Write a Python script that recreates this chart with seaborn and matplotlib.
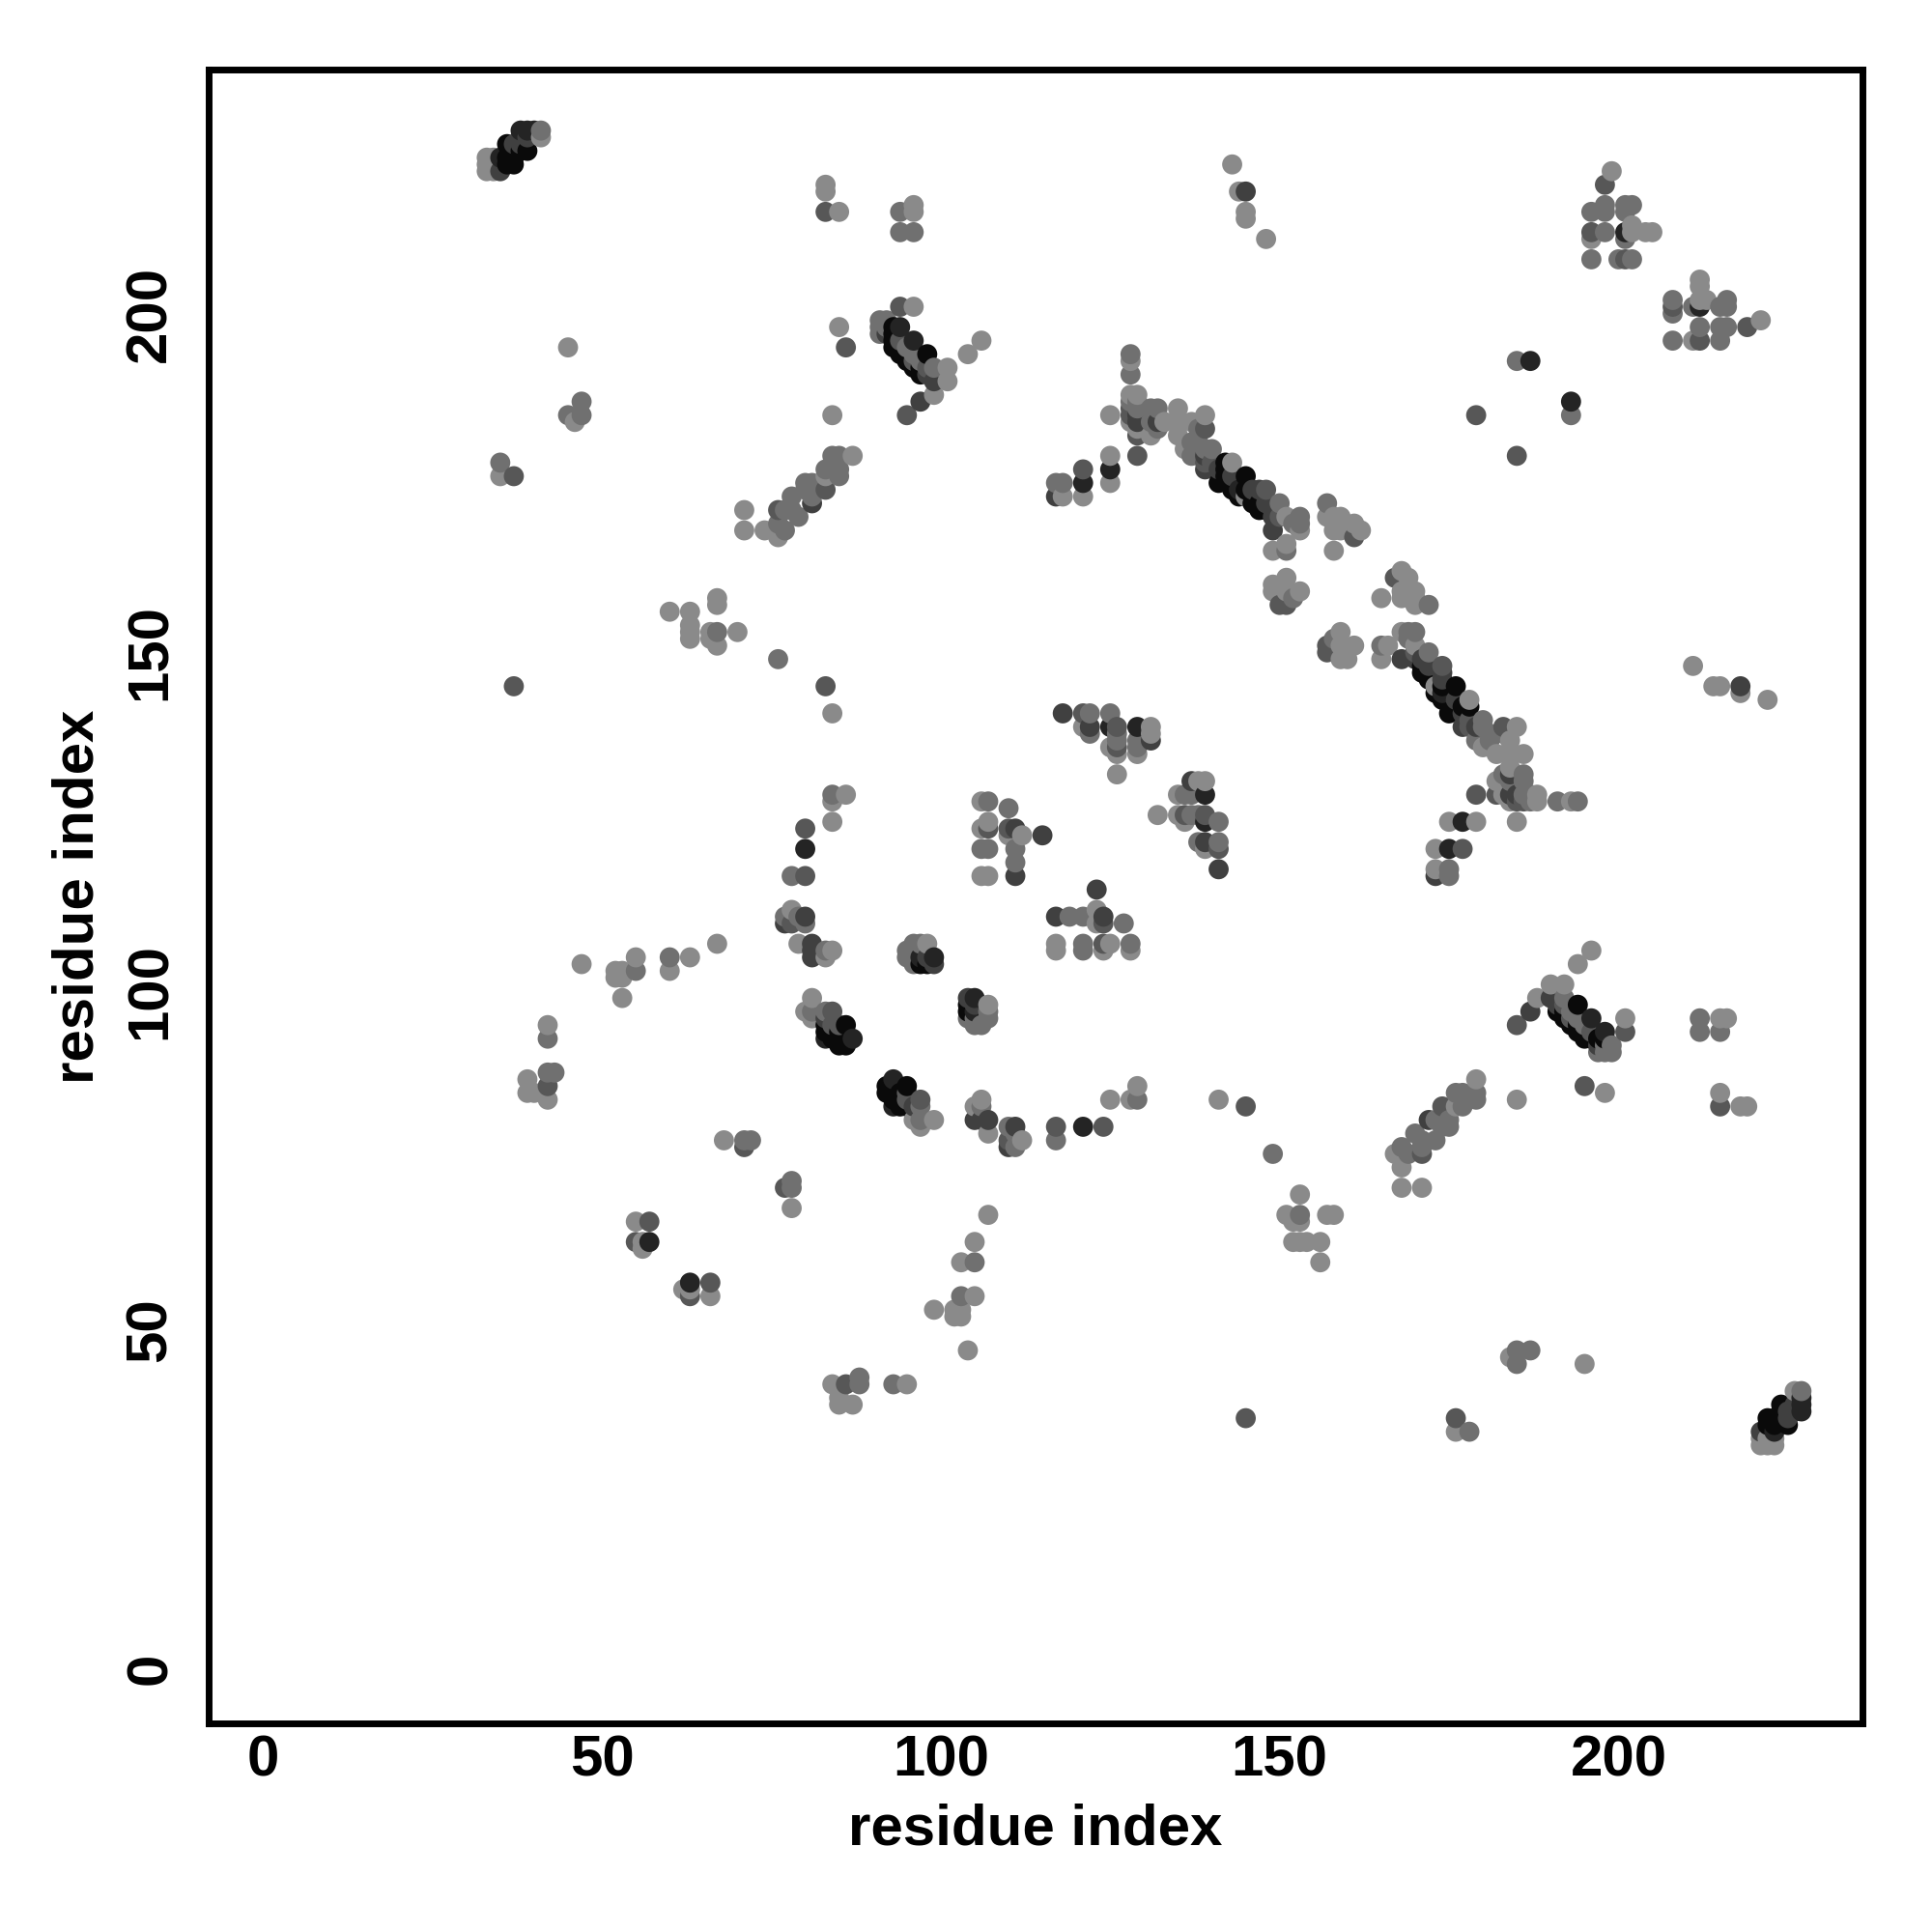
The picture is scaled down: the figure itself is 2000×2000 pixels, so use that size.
import pandas as pd
import matplotlib
matplotlib.use("Agg")
import matplotlib.pyplot as plt
import seaborn as sns

# contacts, one triangle only (i < j), grouped by grey level
black_pairs = [(36,222),(36,223),(36,225),(37,222),(37,223),(37,224),(38,224),(39,224),(93,195),(93,196),(93,197),(93,198),
               (94,194),(95,193),(95,194),(96,192),(97,191),(97,192),(98,194),(83,94),(83,95),(84,93),(84,94),(85,92),
               (85,93),(85,94),(86,92),(86,95),(97,104),(98,104),(142,176),(142,177),(142,178),(143,174),(144,173),
               (145,174),(145,176),(146,172),(147,171),(147,172),(148,171),(141,175)]
very_dark_pairs = [(35,223),(38,227),(39,227),(40,227),(94,198),(96,196),(121,175),(125,177),(125,139),(129,139),
                   (57,63),(80,121),(87,93),(99,105),(201,212),(187,193),(97,105),(144,174),(83,93)]
dark_pairs = [(35,221),(37,225),(38,225),(38,226),(39,226),(99,190),(97,187),(92,197),(81,172),(129,184),(129,185),
              (117,173),(145,218),(139,177),(149,168),(149,170),(147,174),(118,141),(122,139),(131,137),(81,107),
              (81,106),(81,105),(80,111),(77,110),(111,117),(115,123),(111,124),(132,184),(139,179),(98,191),(83,96),
              (141,177),(143,176),(146,174),(148,172),(149,171),(99,104),(98,105)]
dark_mid_pairs = [(83,215),(94,201),(86,195),(95,185),(37,176),(83,145),(37,145),(83,174),(76,171),(129,182),
                  (129,179),(121,177),(179,185),(128,185),(148,174),(161,167),(150,157),(151,157),(80,124),(80,117),
                  (78,110),(107,124),(110,124),(121,141),(126,139),(126,136),(42,86),(71,77),(57,66),(198,219),
                  (196,212),(201,208),(139,183),(84,97),(85,95),(55,63),(94,196),(96,193),(98,192),(84,95),(139,178),
                  (140,178),(150,170),(128,186)]
mid_pairs = [(35,178),(47,187),(45,185),(47,185),(94,215),(94,212),(96,212),(91,197),(91,198),(91,199),(92,199),
             (92,198),(95,195),(96,194),(97,193),(99,192),(84,179),(85,179),(83,177),(85,177),(85,176),(80,175),
             (81,175),(81,173),(78,173),(78,171),(79,170),(80,174),(77,171),(76,169),(77,168),(67,153),(76,149),
             (128,194),(128,191),(128,187),(129,187),(117,175),(118,175),(131,186),(132,186),(131,184),(132,183),
             (137,181),(137,179),(138,183),(138,181),(139,180),(140,180),(150,172),(153,170),(153,169),(152,169),
             (151,165),(157,172),(152,158),(41,227),(122,141),(125,141),(122,138),(126,138),(126,137),(129,137),
             (129,136),(84,129),(107,128),(110,127),(106,121),(107,121),(111,121),(111,119),(78,117),(77,111),
             (79,111),(80,110),(83,97),(81,97),(83,106),(96,107),(97,107),(95,106),(96,105),(96,104),(55,103),
             (60,105),(42,93),(42,88),(43,88),(71,78),(72,78),(196,215),(198,216),(198,215),(201,216),(202,216),
             (201,215),(198,212),(201,211),(202,208),(196,208),(200,208),(185,193),(95,105),(129,186)]
light_pairs = [(33,221),(33,222),(33,223),(34,221),(34,222),(34,223),(41,226),(45,195),(46,184),(35,176),(83,219),
               (83,218),(85,215),(96,216),(96,215),(96,201),(85,198),(101,192),(101,190),(99,188),(84,185),(106,196),
               (104,194),(87,179),(83,176),(76,167),(71,171),(71,168),(74,168),(60,156),(63,156),(63,154),(63,152),
               (63,153),(67,158),(67,157),(67,151),(66,152),(66,153),(70,153),(84,141),(143,222),(144,218),(145,215),
               (145,214),(148,211),(128,193),(128,188),(129,188),(129,183),(125,185),(125,179),(125,175),(121,173),
               (118,173),(131,182),(133,184),(135,186),(135,184),(135,182),(137,184),(136,180),(139,185),(143,178),
               (145,173),(151,170),(153,168),(149,165),(151,166),(157,170),(158,170),(159,170),(158,168),(159,168),
               (161,169),(162,168),(158,165),(151,161),(149,160),(149,159),(151,159),(153,159),(84,128),(86,129),
               (84,125),(78,112),(79,107),(84,106),(83,105),(81,99),(80,97),(81,96),(98,107),(106,128),(106,124),
               (107,125),(106,117),(107,117),(110,123),(112,123),(121,139),(125,136),(126,135),(131,139),(131,138),
               (129,135),(126,132),(47,104),(55,105),(52,103),(53,103),(52,102),(53,102),(53,99),(60,103),(63,105),
               (67,107),(42,95),(39,87),(39,85),(40,85),(42,84),(68,78),(55,66),(56,63),(56,62),(199,221),(196,211),
               (202,213),(202,212),(204,212),(205,212),(128,184)]

grey_levels = {0.04: black_pairs, 0.14: very_dark_pairs, 0.25: dark_pairs,
               0.34: dark_mid_pairs, 0.44: mid_pairs, 0.54: light_pairs}

tick_values = [0, 50, 100, 150, 200]

# the map is symmetric, every contact shows up as (i, j) and (j, i)
rows = []
for grey, pairs in grey_levels.items():
    for i, j in pairs:
        rows.append((i, j, grey))
        rows.append((j, i, grey))
df = pd.DataFrame(rows, columns=["i", "j", "grey"]).sort_values(["i", "j"])

sns.set_style("white")
plt.rcParams["font.family"] = ["Liberation Sans", "DejaVu Sans"]
plt.rcParams["font.weight"] = "bold"

fig = plt.figure(figsize=(10, 10), dpi=200)
ax = fig.add_axes([216 / 2000, 216 / 2000, 1712 / 2000, 1712 / 2000])

palette = {g: (g, g, g) for g in grey_levels}
sns.scatterplot(data=df, x="i", y="j", hue="grey", palette=palette, s=56, linewidth=0,
                legend=False, ax=ax)

ax.set_xlim(-8.03, 236.0)
ax.set_ylim(-8.03, 236.0)
ax.set_xticks(tick_values)
ax.set_yticks(tick_values)
ax.tick_params(axis="x", length=3.2, width=0.9, color="black", labelsize=21.6, pad=0.8, labelcolor="black")
ax.tick_params(axis="y", length=3.2, width=0.9, color="black", labelsize=21.6, pad=8.4, labelcolor="black")
plt.setp(ax.get_yticklabels(), rotation=90, va="center")
for spine in ax.spines.values():
    spine.set_linewidth(2.5)
    spine.set_color("black")

ax.set_xlabel("residue index", fontsize=21.6, fontweight="bold", labelpad=6, color="black")
ax.set_ylabel("residue index", fontsize=21.6, fontweight="bold", labelpad=7.4, color="black")

fig.savefig("out.png", dpi=200, facecolor="white")
